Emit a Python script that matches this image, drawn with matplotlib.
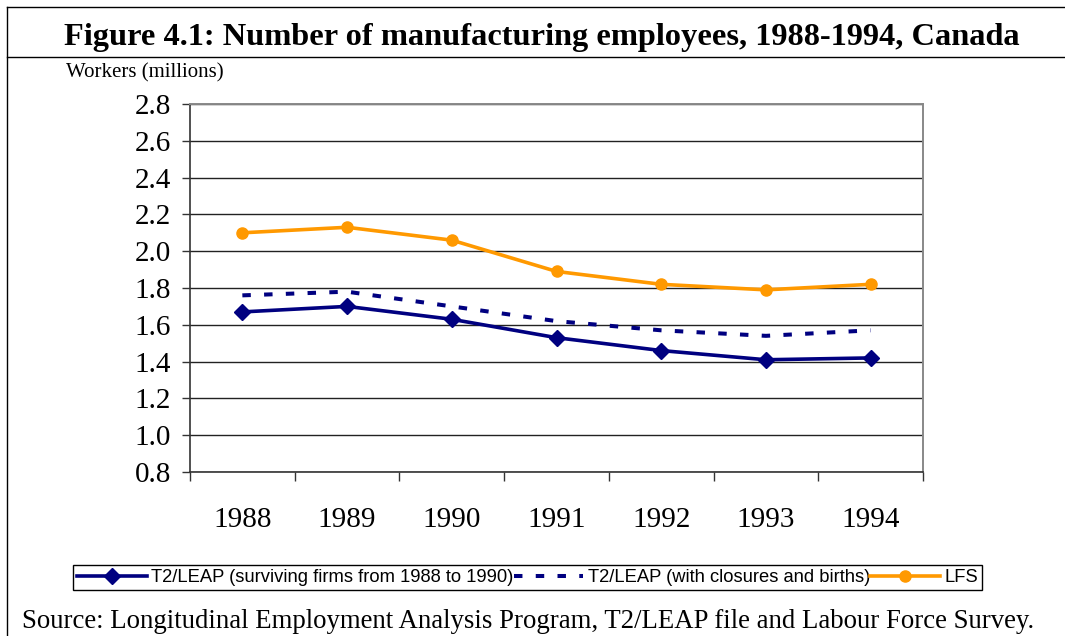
import numpy as np
import matplotlib
matplotlib.use('Agg')
import matplotlib.pyplot as plt
from matplotlib.lines import Line2D

matplotlib.rcParams['font.family'] = ['Liberation Serif', 'DejaVu Serif']

years = ['1988', '1989', '1990', '1991', '1992', '1993', '1994']
t2_surviving = [1.67, 1.70, 1.63, 1.53, 1.46, 1.41, 1.42]
t2_closures = [1.76, 1.78, 1.70, 1.62, 1.57, 1.54, 1.57]
lfs = [2.10, 2.13, 2.06, 1.89, 1.82, 1.79, 1.82]

navy = '#000080'
orange = '#FF9900'

fig = plt.figure(figsize=(10.65, 6.36), dpi=100)
ax = fig.add_axes([190 / 1065, 1 - 472 / 636, 733 / 1065, 368 / 636])

x = np.arange(len(years))
ax.plot(x, t2_surviving, color=navy, lw=2.6, marker='D', markersize=8,
        label='T2/LEAP (surviving firms from 1988 to 1990)', zorder=4)
ax.plot(x, t2_closures, color=navy, lw=2.9, linestyle=(0, (2.1, 3.3)),
        dash_capstyle='butt', label='T2/LEAP (with closures and births)', zorder=3)
ax.plot(x, lfs, color=orange, lw=2.6, marker='o', markersize=8,
        label='LFS', zorder=4)

ax.set_xlim(-0.5, len(years) - 0.5)
ax.set_ylim(0.8, 2.8)
yt = np.arange(0.8, 2.81, 0.2)
ax.set_yticks(yt)
ax.set_yticklabels([f'{v:.1f}' for v in yt], fontsize=21)
ax.set_xticks(x)
ax.set_xticklabels(years, fontsize=21)
ax.set_xticks(np.arange(-0.5, len(years), 1.0), minor=True)
ax.tick_params(axis='x', which='major', length=0, pad=25)
ax.tick_params(axis='x', which='minor', length=6.5, width=1, direction='out', color='#333333')
ax.tick_params(axis='y', length=5.8, width=1, direction='out', pad=8, color='#333333')
ax.grid(axis='y', color='#222222', lw=1)
ax.set_axisbelow(True)
for side in ['left', 'bottom']:
    ax.spines[side].set_color('#333333')
    ax.spines[side].set_linewidth(1.2)
for side in ['top', 'right']:
    ax.spines[side].set_color('#888888')
    ax.spines[side].set_linewidth(1.4)

# outer frame and title separator
fig.add_artist(Line2D([7 / 1065, 7 / 1065], [0, 1 - 7 / 636], color='black', lw=1, transform=fig.transFigure))
fig.add_artist(Line2D([7 / 1065, 1], [1 - 7 / 636, 1 - 7 / 636], color='black', lw=1, transform=fig.transFigure))
fig.add_artist(Line2D([7 / 1065, 1], [1 - 57 / 636, 1 - 57 / 636], color='black', lw=1, transform=fig.transFigure))

fig.text(542 / 1065, 1 - 45 / 636, 'Figure 4.1: Number of manufacturing employees, 1988-1994, Canada',
         ha='center', va='baseline', fontsize=23.3, fontweight='bold')
fig.text(66 / 1065, 1 - 77 / 636, 'Workers (millions)', ha='left', va='baseline', fontsize=15)
fig.text(22 / 1065, 1 - 628 / 636,
         'Source: Longitudinal Employment Analysis Program, T2/LEAP file and Labour Force Survey.',
         ha='left', va='baseline', fontsize=19.3)

leg = fig.legend(loc='center', bbox_to_anchor=(527.5 / 1065, 1 - 577.5 / 636), ncol=3,
                 prop={'family': 'Liberation Sans', 'size': 13.2}, handlelength=3.8,
                 handletextpad=0.25, columnspacing=0.0, borderpad=0.2, borderaxespad=0,
                 fancybox=False, framealpha=1, edgecolor='black')
leg.get_frame().set_linewidth(1)

fig.savefig('out.png', dpi=100)
